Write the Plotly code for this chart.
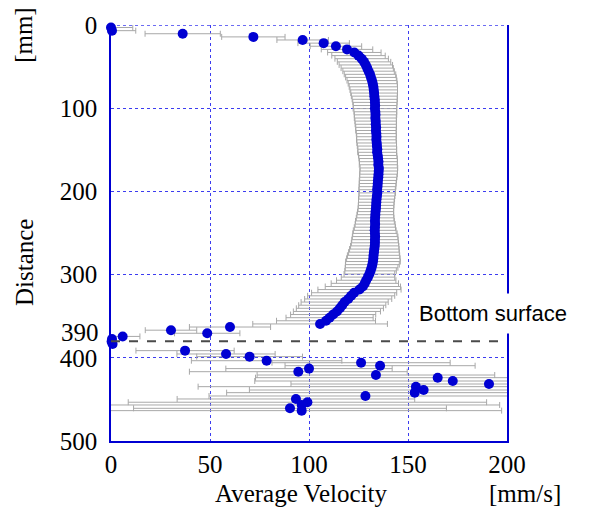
import plotly.graph_objects as go

# ---- data ----
profile_depth = [3.0, 6.8, 10.5, 14.3, 18.0, 21.8, 25.5, 29.3, 33.0, 36.8,
                 40.5, 44.3, 48.0, 51.8, 55.5, 59.3, 63.0, 66.8, 70.5, 74.3,
                 78.0, 81.8, 85.5, 89.3, 93.0, 96.8, 100.5, 104.3, 108.0, 111.8,
                 115.5, 119.3, 123.0, 126.8, 130.5, 134.3, 138.0, 141.8, 145.5, 149.3,
                 153.0, 156.8, 160.5, 164.3, 168.0, 171.8, 175.5, 179.3, 183.0, 186.8,
                 190.5, 194.3, 198.0, 201.8, 205.5, 209.3, 213.0, 216.8, 220.5, 224.3,
                 228.0, 231.8, 235.5, 239.3, 243.0, 246.8, 250.5, 254.3, 258.0, 261.8,
                 265.5, 269.3, 273.0, 276.8, 280.5, 284.3, 288.0, 291.8, 295.5, 299.3,
                 303.0, 306.8, 310.5, 314.3, 318.0, 321.8, 325.5, 329.3, 333.0, 336.8,
                 340.5, 344.3, 348.0, 351.8, 355.5, 359.3]
profile_vel = [0.0, 0.5, 36.2, 71.9, 96.8, 107.4, 113.6, 119.2, 122.9, 125.0,
               126.6, 127.8, 128.7, 129.4, 130.1, 130.8, 131.3, 131.8, 132.2, 132.5,
               132.7, 132.9, 133.0, 133.2, 133.3, 133.4, 133.3, 133.5, 133.6, 133.5,
               133.7, 133.7, 133.9, 133.8, 134.0, 134.1, 134.0, 134.2, 134.3, 134.5,
               134.4, 134.7, 134.9, 135.1, 135.0, 135.3, 135.2, 135.1, 135.0, 134.8,
               134.7, 134.6, 134.4, 134.5, 134.3, 134.1, 134.0, 133.9, 133.8, 133.6,
               133.5, 133.4, 133.3, 133.4, 133.3, 133.2, 133.3, 133.4, 133.3, 133.3,
               133.2, 133.0, 132.8, 132.6, 132.5, 132.3, 132.0, 131.6, 131.1, 130.5,
               129.8, 128.9, 128.2, 127.2, 125.5, 122.8, 121.3, 119.8, 118.0, 116.8,
               115.6, 114.1, 112.2, 110.4, 108.6, 105.6]
profile_err = [11, 12, 19, 16, 13, 13, 13, 13, 13.5, 13.5,
               13.5, 13.5, 13.5, 13.2, 13.0, 13.0, 12.8, 12.6, 12.4, 12.2,
               12.0, 11.8, 11.6, 11.4, 11.2, 11.0, 11.0, 10.8, 10.7, 10.6,
               10.5, 10.4, 10.3, 10.2, 10.1, 10.0, 10.0, 10.0, 9.9, 9.8,
               9.8, 9.7, 9.7, 9.6, 9.6, 9.5, 9.5, 9.5, 9.4, 9.4,
               9.3, 9.3, 9.2, 9.2, 9.1, 9.1, 9.0, 9.0, 9.0, 9.1,
               9.3, 9.5, 9.8, 10.1, 10.4, 10.8, 11.2, 11.5, 11.7, 11.9,
               12.2, 12.5, 12.8, 13.2, 13.5, 13.8, 13.6, 13.3, 13.0, 12.8,
               13.5, 15.0, 17.0, 19.0, 21.0, 21.5, 22.0, 22.0, 22.0, 22.0,
               22.0, 22.0, 21.5, 22.0, 25.0, 34.0]

near_depth = [363.0, 366.8, 370.5, 374.3, 377.5, 380.5, 383.5]
near_vel = [60.1, 30.3, 48.6, 5.9, 0.5, 0.3, 0.8]
near_err = [20.5, 13.0, 16.5, 8.7, 1.5, 1.0, 2.0]

below_depth = [391.4, 395.4, 398.6, 403.5, 405.9, 409.5, 413.0, 416.7, 420.7, 423.9,
               427.9, 431.5, 434.7, 438.7, 441.9, 445.9, 449.5, 453.4, 456.7, 460.7, 463.5]
below_vel = [37.4, 58.1, 70.0, 78.6, 126.3, 135.9, 100.0, 94.6, 133.8, 165.0,
             172.6, 190.9, 154.0, 157.9, 153.4, 128.5, 93.4, 99.2, 96.3, 90.4, 96.3]
below_err = [24.8, 24.8, 26.7, 38.0, 45.0, 48.0, 42.0, 55.0, 60.0, 92.0,
             100.0, 100.0, 110.0, 88.0, 95.0, 79.0, 60.0, 90.5, 100.0, 79.0, 101.0]

surface_depth = 380
x_ticks = [0, 50, 100, 150, 200]
y_ticks = [0, 100, 200, 300, 400, 500]

depth = profile_depth + near_depth + below_depth
vel = profile_vel + near_vel + below_vel
err = profile_err + near_err + below_err

BLUE = "#0000d2"
GRID = "#3c3cf0"
SERIF = "Liberation Serif, Times New Roman, serif"

fig = go.Figure()
# error bars (clipped to the plot area)
fig.add_trace(go.Scatter(
    x=vel, y=depth, mode="markers",
    marker=dict(size=2, color=BLUE, opacity=0),
    error_x=dict(type="data", array=err, visible=True, color="#a8a8a8",
                 thickness=1, width=3),
    hoverinfo="skip", showlegend=False))
# markers (not clipped)
fig.add_trace(go.Scatter(
    x=vel, y=depth, mode="markers",
    marker=dict(size=10, color=BLUE, line=dict(width=0)),
    cliponaxis=False, showlegend=False))

# top dotted grid line at depth 0
fig.add_shape(type="line", xref="x", yref="y", x0=0, x1=200, y0=0, y1=0,
              line=dict(color=GRID, width=1.5, dash="dot"), layer="below")
fig.add_shape(type="line", xref="x", yref="y", x0=0, x1=198,
              y0=surface_depth, y1=surface_depth,
              line=dict(color="#4a4a4a", width=2, dash="dash"), layer="above")

fig.update_xaxes(range=[0, 200], tickvals=x_ticks, showgrid=True,
                 gridcolor=GRID, griddash="dot", gridwidth=1,
                 showline=True, linecolor=BLUE, linewidth=1.5, mirror=False,
                 zeroline=False, ticks="",
                 tickfont=dict(family=SERIF, size=25, color="black"))
fig.update_yaxes(range=[500, 0], tickvals=y_ticks, showgrid=True,
                 gridcolor=GRID, griddash="dot", gridwidth=1,
                 showline=True, linecolor=BLUE, linewidth=1.5, mirror=True,
                 zeroline=False, ticks="", ticklabelstandoff=7,
                 tickfont=dict(family=SERIF, size=25, color="black"))

ann = [
    dict(text="Average Velocity", xref="paper", yref="paper", x=0.48, y=-0.125,
         showarrow=False, font=dict(family=SERIF, size=25, color="black"),
         xanchor="center", yanchor="middle"),
    dict(text="[mm/s]", xref="paper", yref="paper", x=1.045, y=-0.125,
         showarrow=False, font=dict(family=SERIF, size=25, color="black"),
         xanchor="center", yanchor="middle"),
    dict(text="Distance", xref="paper", yref="paper", x=-0.22, y=0.43,
         textangle=-90, showarrow=False,
         font=dict(family=SERIF, size=25, color="black"),
         xanchor="center", yanchor="middle"),
    dict(text="[mm]", xref="paper", yref="paper", x=-0.22, y=0.976,
         textangle=-90, showarrow=False,
         font=dict(family=SERIF, size=25, color="black"),
         xanchor="center", yanchor="middle"),
    dict(text="390", xref="paper", yref="y", x=-0.025, y=390, yshift=17,
         showarrow=False, font=dict(family=SERIF, size=25, color="black"),
         xanchor="right", yanchor="middle"),
    dict(text="Bottom surface", xref="paper", yref="paper", x=0.964, y=0.307,
         showarrow=False, bgcolor="white", borderpad=7,
         font=dict(family="Liberation Sans, Arial, sans-serif", size=22,
                   color="black"),
         xanchor="center", yanchor="middle"),
]

fig.update_layout(width=608, height=513, margin=dict(l=111, r=101, t=25, b=72),
                  plot_bgcolor="white", paper_bgcolor="white",
                  annotations=ann, showlegend=False)

fig.write_html("out.html", config={"displayModeBar": False},
               post_script="document.body.style.margin='0';"
                           "document.body.style.overflow='hidden';")
